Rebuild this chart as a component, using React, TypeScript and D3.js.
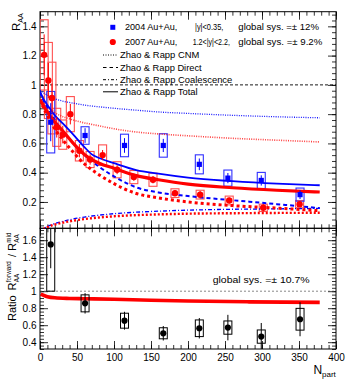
import React, { useEffect, useRef } from "react";
import * as d3 from "d3";

// 2007 Au+Au forward rapidity (red)
const fwdNpart = [5.6, 11.3, 16.1, 22.6, 30.8, 41.0, 53.2, 67.7, 84.6, 104.2, 126.8, 152.7, 182.4, 216.4, 255.7, 301.7, 350.8];
const fwdRaa = [1.205, 1.03, 0.91, 0.71, 0.66, 0.8, 0.55, 0.49, 0.52, 0.42, 0.37, 0.352, 0.26, 0.25, 0.21, 0.16, 0.185];
const fwdStat = [0.14, 0.12, 0.1, 0.07, 0.06, 0.07, 0.045, 0.035, 0.035, 0.03, 0.025, 0.025, 0.02, 0.025, 0.02, 0.025, 0.02];
const fwdSys = [0.24, 0.26, 0.245, 0.13, 0.1, 0.12, 0.07, 0.055, 0.07, 0.055, 0.045, 0.045, 0.03, 0.03, 0.03, 0.025, 0.025];

// 2004 Au+Au mid rapidity (blue)
const midNpart = [14.5, 60.9, 114.2, 166.6, 215.3, 253.9, 299.0, 351.4];
const midRaa = [0.745, 0.654, 0.586, 0.586, 0.457, 0.363, 0.347, 0.25];
const midStat = [0.13, 0.05, 0.05, 0.045, 0.04, 0.035, 0.035, 0.03];
const midSys = [0.21, 0.06, 0.077, 0.08, 0.065, 0.055, 0.055, 0.045];

// forward / mid ratio (black)
const ratioVal = [1.55, 0.857, 0.653, 0.505, 0.564, 0.572, 0.466, 0.67];
const ratioStat = [0.28, 0.12, 0.105, 0.085, 0.12, 0.15, 0.16, 0.2];
const ratioSys = [0.55, 0.1, 0.088, 0.065, 0.098, 0.078, 0.078, 0.128];

// Zhao & Rapp model curves
const curveN = [0, 5, 10, 20, 30, 45, 60, 70, 80, 100, 130, 160, 200, 260, 320, 378];
const blueTotal = [0.955, 0.9, 0.862, 0.792, 0.74, 0.66, 0.575, 0.525, 0.5, 0.465, 0.418, 0.393, 0.366, 0.342, 0.325, 0.314];
const redTotal = [0.9, 0.855, 0.815, 0.745, 0.69, 0.6, 0.525, 0.49, 0.465, 0.43, 0.38, 0.352, 0.322, 0.297, 0.28, 0.268];
const blueDirect = [0.95, 0.89, 0.845, 0.76, 0.69, 0.6, 0.52, 0.48, 0.44, 0.375, 0.3, 0.265, 0.24, 0.212, 0.185, 0.158];
const redDirect = [0.9, 0.84, 0.79, 0.7, 0.63, 0.54, 0.46, 0.42, 0.385, 0.325, 0.258, 0.228, 0.2, 0.175, 0.158, 0.14];
const blueCNM = [0.965, 0.945, 0.93, 0.905, 0.89, 0.875, 0.862, 0.855, 0.85, 0.84, 0.827, 0.815, 0.805, 0.792, 0.782, 0.775];
const redCNM = [0.935, 0.89, 0.855, 0.81, 0.785, 0.76, 0.74, 0.73, 0.72, 0.7, 0.678, 0.665, 0.652, 0.635, 0.622, 0.61];
const blueCoal = [0.0, 0.018, 0.032, 0.052, 0.066, 0.084, 0.097, 0.104, 0.11, 0.12, 0.13, 0.137, 0.144, 0.15, 0.153, 0.156];
const redCoal = [0.0, 0.016, 0.028, 0.046, 0.058, 0.072, 0.083, 0.089, 0.094, 0.102, 0.11, 0.115, 0.12, 0.123, 0.125, 0.126];

const ratioCurveN = [1, 10, 20, 40, 60, 100, 150, 200, 280, 378];
const ratioCurveV = [0.965, 0.935, 0.922, 0.915, 0.912, 0.905, 0.893, 0.884, 0.875, 0.868];

const xTicks = [0, 50, 100, 150, 200, 250, 300, 350, 400];
const topTicks = [0.2, 0.4, 0.6, 0.8, 1, 1.2, 1.4];
const botTicks = [0.4, 0.6, 0.8, 1, 1.2, 1.4, 1.6];

const FONT = "'Liberation Sans', Arial, Helvetica, sans-serif";
const BLUE = "#0000ff";
const RED = "#ff0000";

export default function App() {
  const svgRef = useRef<SVGSVGElement>(null);

  useEffect(() => {
    const svg = d3.select(svgRef.current);
    svg.selectAll("*").remove();

    const L = 40, R = 336, T = 11.7, M = 228.3, B = 349;

    const x = d3.scaleLinear().domain([0, 400]).range([L, R]);
    const yTop = d3.scaleLinear().domain([0.02, 1.5]).range([M, T]);
    const yBot = d3.scaleLinear().domain([0.32, 1.74]).range([B, M]);

    const defs = svg.append("defs");
    defs.append("clipPath").attr("id", "clipTop")
      .append("rect").attr("x", L).attr("y", T).attr("width", R - L).attr("height", M - T);
    defs.append("clipPath").attr("id", "clipBot")
      .append("rect").attr("x", L).attr("y", M).attr("width", R - L).attr("height", B - M);

    const minorX = d3.range(0, 401, 10);
    const minorTop = d3.range(0.04, 1.5, 0.04);
    const minorBot = d3.range(0.32, 1.74, 0.04);

    // axes helper: ticks inward, no domain path
    const drawAxis = (g: any, axis: any) => {
      g.call(axis).call((s: any) => s.select(".domain").remove());
      g.selectAll("line").attr("stroke", "#000").attr("stroke-width", 0.8);
      g.selectAll("text").attr("font-family", FONT).attr("font-size", 10).attr("fill", "#000");
    };

    const axes = svg.append("g");
    // top panel
    drawAxis(axes.append("g").attr("transform", `translate(${L},0)`),
      d3.axisLeft(yTop).tickValues(topTicks).tickSize(-8).tickPadding(3.5).tickFormat((d: any) => d3.format("~g")(d)));
    drawAxis(axes.append("g").attr("transform", `translate(${L},0)`),
      d3.axisLeft(yTop).tickValues(minorTop).tickSize(-4).tickFormat(() => ""));
    drawAxis(axes.append("g").attr("transform", `translate(${R},0)`),
      d3.axisRight(yTop).tickValues(topTicks).tickSize(-8).tickFormat(() => ""));
    drawAxis(axes.append("g").attr("transform", `translate(${R},0)`),
      d3.axisRight(yTop).tickValues(minorTop).tickSize(-4).tickFormat(() => ""));
    drawAxis(axes.append("g").attr("transform", `translate(0,${T})`),
      d3.axisTop(x).tickValues(xTicks).tickSize(-8).tickFormat(() => ""));
    drawAxis(axes.append("g").attr("transform", `translate(0,${T})`),
      d3.axisTop(x).tickValues(minorX).tickSize(-4).tickFormat(() => ""));
    drawAxis(axes.append("g").attr("transform", `translate(0,${M})`),
      d3.axisBottom(x).tickValues(xTicks).tickSize(-8).tickFormat(() => ""));
    drawAxis(axes.append("g").attr("transform", `translate(0,${M})`),
      d3.axisBottom(x).tickValues(minorX).tickSize(-4).tickFormat(() => ""));
    // bottom panel
    drawAxis(axes.append("g").attr("transform", `translate(${L},0)`),
      d3.axisLeft(yBot).tickValues(botTicks).tickSize(-8).tickPadding(3.5).tickFormat((d: any) => d3.format("~g")(d)));
    drawAxis(axes.append("g").attr("transform", `translate(${L},0)`),
      d3.axisLeft(yBot).tickValues(minorBot).tickSize(-4).tickFormat(() => ""));
    drawAxis(axes.append("g").attr("transform", `translate(${R},0)`),
      d3.axisRight(yBot).tickValues(botTicks).tickSize(-8).tickFormat(() => ""));
    drawAxis(axes.append("g").attr("transform", `translate(${R},0)`),
      d3.axisRight(yBot).tickValues(minorBot).tickSize(-4).tickFormat(() => ""));
    drawAxis(axes.append("g").attr("transform", `translate(0,${M})`),
      d3.axisTop(x).tickValues(xTicks).tickSize(-8).tickFormat(() => ""));
    drawAxis(axes.append("g").attr("transform", `translate(0,${M})`),
      d3.axisTop(x).tickValues(minorX).tickSize(-4).tickFormat(() => ""));
    drawAxis(axes.append("g").attr("transform", `translate(0,${B})`),
      d3.axisBottom(x).tickValues(xTicks).tickSize(-8).tickPadding(4.6).tickFormat((d: any) => String(d)));
    drawAxis(axes.append("g").attr("transform", `translate(0,${B})`),
      d3.axisBottom(x).tickValues(minorX).tickSize(-4).tickFormat(() => ""));

    // frames
    svg.append("rect").attr("x", L).attr("y", T).attr("width", R - L).attr("height", M - T)
      .attr("fill", "none").attr("stroke", "#000").attr("stroke-width", 1);
    svg.append("rect").attr("x", L).attr("y", M).attr("width", R - L).attr("height", B - M)
      .attr("fill", "none").attr("stroke", "#000").attr("stroke-width", 1);

    // unity lines
    svg.append("line").attr("x1", L).attr("x2", R).attr("y1", yTop(1)).attr("y2", yTop(1))
      .attr("stroke", "#000").attr("stroke-width", 0.9).attr("stroke-dasharray", "3,2");
    svg.append("line").attr("x1", L).attr("x2", R).attr("y1", yBot(1)).attr("y2", yBot(1))
      .attr("stroke", "#555").attr("stroke-width", 0.7).attr("stroke-dasharray", "2,2");

    // ---- top panel
    const top = svg.append("g").attr("clip-path", "url(#clipTop)");

    // systematic boxes
    fwdNpart.forEach((n, i) => {
      top.append("rect").attr("x", x(n) - 4).attr("width", 8)
        .attr("y", yTop(fwdRaa[i] + fwdSys[i])).attr("height", yTop(fwdRaa[i] - fwdSys[i]) - yTop(fwdRaa[i] + fwdSys[i]))
        .attr("fill", "none").attr("stroke", "#ff5050").attr("stroke-width", 1.1);
    });
    midNpart.forEach((n, i) => {
      top.append("rect").attr("x", x(n) - 4).attr("width", 8)
        .attr("y", yTop(midRaa[i] + midSys[i])).attr("height", yTop(midRaa[i] - midSys[i]) - yTop(midRaa[i] + midSys[i]))
        .attr("fill", "none").attr("stroke", "#3030ff").attr("stroke-width", 1.1);
    });

    const line = d3.line<number>().x((_, i) => x(curveN[i])).y((d) => yTop(d)).curve(d3.curveMonotoneX);
    const curves: [number[], string, number, string | null, number][] = [
      [blueCNM, BLUE, 1.3, "1,1.3", 0.9],
      [redCNM, RED, 1.6, "1,1.3", 0.75],
      [blueCoal, BLUE, 1.3, "4,2,1,2", 1],
      [redCoal, RED, 2.4, "2,2", 1],
      [blueDirect, BLUE, 2, "4,3", 1],
      [redDirect, RED, 3, "3,3", 1],
      [blueTotal, BLUE, 1.8, null, 1],
      [redTotal, RED, 3.2, null, 1],
    ];
    curves.forEach(([vals, c, w, dash, op]) => {
      top.append("path").attr("d", line(vals)).attr("fill", "none").attr("stroke", c)
        .attr("stroke-width", w).attr("stroke-dasharray", dash).attr("opacity", op);
    });

    // stat errors and markers
    fwdNpart.forEach((n, i) => {
      top.append("line").attr("x1", x(n)).attr("x2", x(n))
        .attr("y1", yTop(fwdRaa[i] + fwdStat[i])).attr("y2", yTop(fwdRaa[i] - fwdStat[i]))
        .attr("stroke", RED).attr("stroke-width", 1);
      top.append("circle").attr("cx", x(n)).attr("cy", yTop(fwdRaa[i])).attr("r", 3.2).attr("fill", RED);
    });
    midNpart.forEach((n, i) => {
      top.append("line").attr("x1", x(n)).attr("x2", x(n))
        .attr("y1", yTop(midRaa[i] + midStat[i])).attr("y2", yTop(midRaa[i] - midStat[i]))
        .attr("stroke", BLUE).attr("stroke-width", 1);
      top.append("rect").attr("x", x(n) - 2.6).attr("y", yTop(midRaa[i]) - 2.6)
        .attr("width", 5.2).attr("height", 5.2).attr("fill", BLUE);
    });

    // ---- bottom panel
    const bot = svg.append("g").attr("clip-path", "url(#clipBot)");
    const rline = d3.line<number>().x((_, i) => x(ratioCurveN[i])).y((d) => yBot(d)).curve(d3.curveMonotoneX);
    bot.append("path").attr("d", rline(ratioCurveV)).attr("fill", "none").attr("stroke", RED).attr("stroke-width", 3.6);
    midNpart.forEach((n, i) => {
      bot.append("rect").attr("x", x(n) - 4).attr("width", 8)
        .attr("y", yBot(ratioVal[i] + ratioSys[i])).attr("height", yBot(ratioVal[i] - ratioSys[i]) - yBot(ratioVal[i] + ratioSys[i]))
        .attr("fill", "none").attr("stroke", "#000").attr("stroke-width", 1);
      bot.append("line").attr("x1", x(n)).attr("x2", x(n))
        .attr("y1", yBot(ratioVal[i] + ratioStat[i])).attr("y2", yBot(ratioVal[i] - ratioStat[i]))
        .attr("stroke", "#000").attr("stroke-width", 1);
      bot.append("circle").attr("cx", x(n)).attr("cy", yBot(ratioVal[i])).attr("r", 3.1).attr("fill", "#000");
    });

    // stretched text to match the wide ROOT Helvetica
    const wtext = (g: any, xx: number, yy: number, w: number, s: string, size: number) =>
      g.append("text").attr("x", xx).attr("y", yy).attr("font-size", size)
        .attr("textLength", w).attr("lengthAdjust", "spacingAndGlyphs").text(s);

    const sysG = svg.append("g").attr("font-family", FONT).attr("fill", "#000");
    wtext(sysG, 212.7, 283.3, 97, "global sys. =\u00b1 10.7%", 8.8);

    // ---- legend
    const leg = svg.append("g").attr("font-family", FONT).attr("fill", "#000");
    leg.append("rect").attr("x", 110.3).attr("y", 24.8).attr("width", 5).attr("height", 5).attr("fill", BLUE);
    leg.append("circle").attr("cx", 112.8).attr("cy", 42).attr("r", 3.1).attr("fill", RED);
    const fs = 8.6;
    const row1 = 30.4, row2 = 45;
    wtext(leg, 125, row1, 52.3, "2004 Au+Au,", fs);
    wtext(leg, 195, row1, 28.3, "|y|<0.35,", fs);
    wtext(leg, 238.3, row1, 80.7, "global sys. =\u00b1 12%", fs);
    wtext(leg, 125, row2, 52.3, "2007 Au+Au,", fs);
    wtext(leg, 192.7, row2, 37.3, "1.2<|y|<2.2,", fs);
    wtext(leg, 238.3, row2, 84, "global sys. =\u00b1 9.2%", fs);
    const modelRows: [number, string | null, string, number][] = [
      [55, "1,1.5", "Zhao & Rapp CNM", 79.3],
      [67.5, "3.5,3", "Zhao & Rapp Direct", 81.7],
      [79.7, "3,2,1,2", "Zhao & Rapp Coalescence", 112.3],
      [91.8, null, "Zhao & Rapp Total", 77.7],
    ];
    modelRows.forEach(([yy, dash, label, w]) => {
      leg.append("line").attr("x1", 103).attr("x2", 118).attr("y1", yy).attr("y2", yy)
        .attr("stroke", "#000").attr("stroke-width", 1).attr("stroke-dasharray", dash);
      wtext(leg, 120, yy + 3.1, w, label, fs);
    });

    // ---- axis titles
    const t1 = svg.append("g").attr("transform", "translate(19.5,31) rotate(-90)")
      .attr("font-family", FONT).attr("fill", "#000");
    t1.append("text").attr("x", 0).attr("y", 0).attr("font-size", 11.5).text("R");
    t1.append("text").attr("x", 8.3).attr("y", 3).attr("font-size", 7).text("AA");

    const t2 = svg.append("g").attr("transform", "translate(16,321) rotate(-90)")
      .attr("font-family", FONT).attr("fill", "#000");
    t2.append("text").attr("x", 0).attr("y", 0).attr("font-size", 11).text("Ratio");
    t2.append("text").attr("x", 30.5).attr("y", 0).attr("font-size", 11).text("R");
    t2.append("text").attr("x", 38.8).attr("y", -5).attr("font-size", 6.3).text("forward");
    t2.append("text").attr("x", 38.8).attr("y", 3).attr("font-size", 6.3).text("AA");
    t2.append("text").attr("x", 64).attr("y", 0).attr("font-size", 11).text("/");
    t2.append("text").attr("x", 70).attr("y", 0).attr("font-size", 11).text("R");
    t2.append("text").attr("x", 78.3).attr("y", -5).attr("font-size", 6.3).text("mid");
    t2.append("text").attr("x", 78.3).attr("y", 3).attr("font-size", 6.3).text("AA");

    const t3 = svg.append("g").attr("font-family", FONT).attr("fill", "#000");
    t3.append("text").attr("x", 313.5).attr("y", 373.5).attr("font-size", 12).text("N");
    t3.append("text").attr("x", 322).attr("y", 377).attr("font-size", 8).text("part");
  }, []);

  return (
    <div style={{ position: "absolute", left: 0, top: 0, width: 354, height: 382, background: "#fff" }}>
      <svg ref={svgRef} width={354} height={382} />
    </div>
  );
}
